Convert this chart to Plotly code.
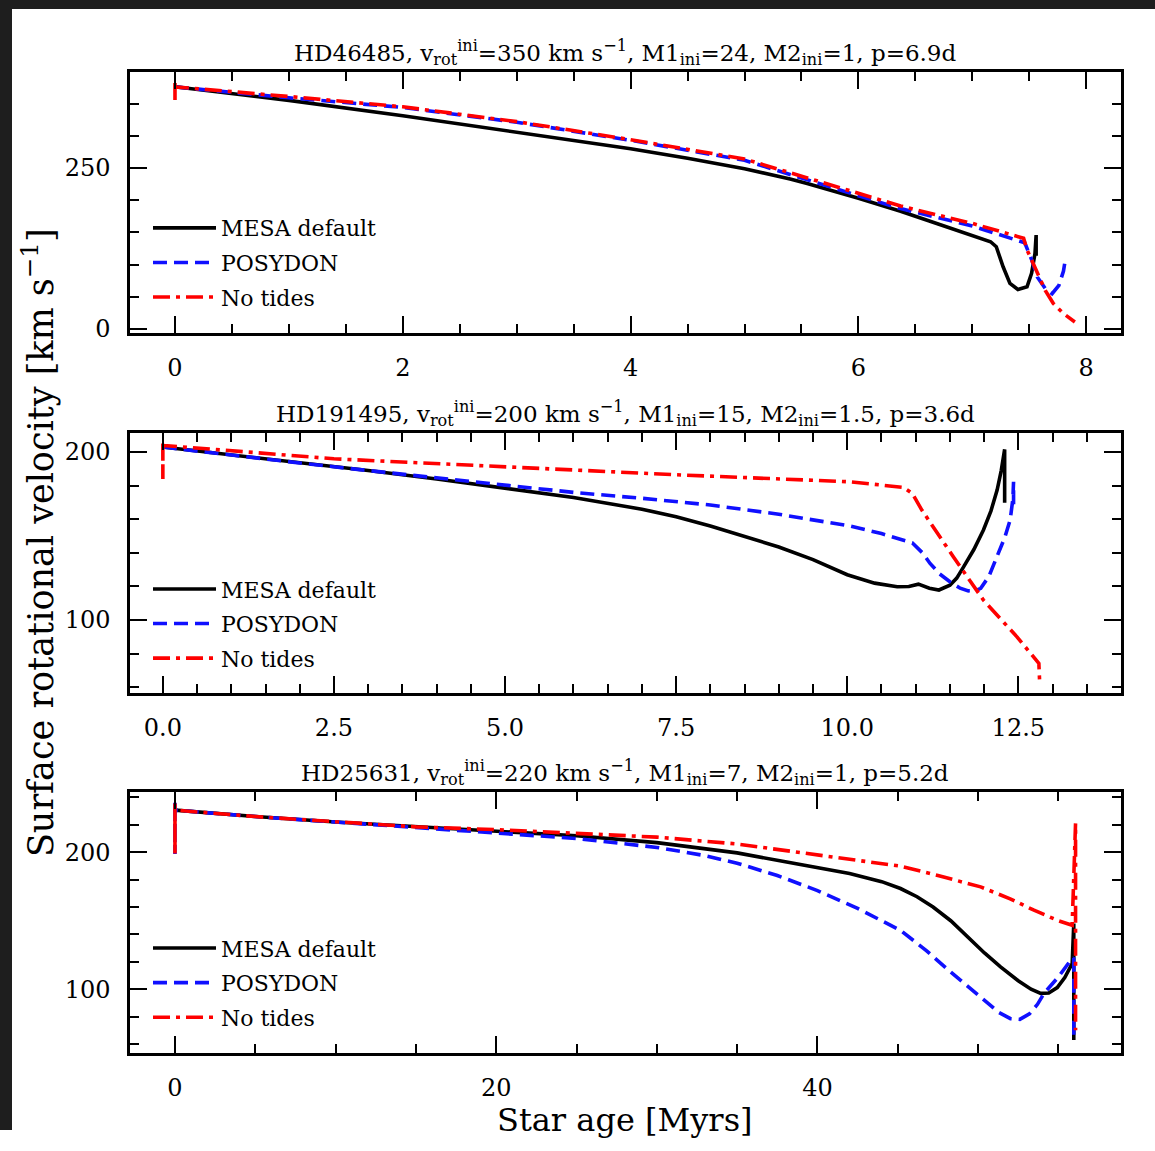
import plotly.graph_objects as go

# ---------------- data ----------------
# Panel 1: HD46485
p1_mesa_age = [0, 1, 2, 3, 4, 4.5, 5, 5.4, 5.55, 6, 6.37, 6.7, 7.0, 7.16, 7.21, 7.27, 7.33, 7.40, 7.48, 7.52, 7.55, 7.56, 7.56]
p1_mesa_v = [376, 355, 331, 306, 280, 265, 249, 233, 226, 203, 183, 163, 145, 135.6, 127.8, 96.7, 71, 61.6, 65.7, 86.5, 117.5, 146, 114]
p1_pos_age = [0, 1, 2, 3, 4, 5, 6, 6.37, 7.0, 7.46, 7.52, 7.57, 7.64, 7.70, 7.76, 7.80, 7.82]
p1_pos_v = [376, 359, 344, 321, 293, 262, 207, 187, 160, 134, 108, 81, 63, 55, 68, 90, 112]
p1_not_age = [0, 0, 0, 1, 2, 3, 4, 5, 6, 6.37, 7.0, 7.45, 7.48, 7.57, 7.64, 7.71, 7.80, 7.90]
p1_not_v = [382, 351, 376, 361, 345, 322, 294, 264, 210, 191, 164, 141, 123, 86, 60, 40, 24, 11]

# Panel 2: HD191495
p2_mesa_age = [0, 1, 2, 3, 4, 5, 6, 7, 7.5, 8, 8.5, 9, 9.5, 10, 10.4, 10.73, 10.9, 11.04, 11.2, 11.34, 11.5, 11.6, 11.7, 11.85, 11.99, 12.1, 12.19, 12.25, 12.30, 12.30]
p2_mesa_v = [203, 198.5, 194, 189, 184, 178.5, 173, 166, 161.5, 156, 150, 143.5, 136, 127, 122, 119.8, 120, 121.4, 119, 117.9, 120.8, 125, 131.7, 142, 153.6, 165, 177.4, 189, 201.6, 169.8]
p2_pos_age = [0, 1, 2, 3, 4, 5, 6, 7, 8, 9, 10.04, 10.5, 10.95, 11.1, 11.21, 11.35, 11.5, 11.65, 11.77, 11.87, 11.95, 12.07, 12.19, 12.3, 12.38, 12.42, 12.43, 12.43]
p2_pos_v = [203, 198, 193.5, 189, 184.5, 180, 176, 172.5, 168.5, 163, 156, 151.5, 146, 140, 133.7, 127.5, 122.8, 119, 117.4, 117.5, 118.9, 126, 137.7, 149, 159.5, 172, 182.3, 165]
p2_not_age = [0, 0, 0, 2.5, 5, 7.5, 10.04, 10.82, 10.95, 11.09, 11.55, 11.99, 12.48, 12.80, 12.81]
p2_not_v = [205, 184, 204, 196, 191, 186.5, 182.3, 179, 175.4, 165.5, 137.7, 111.9, 90, 74.2, 64.3]

# Panel 3: HD25631
p3_mesa_age = [0, 5, 10, 15, 20, 25, 30, 35, 38, 40, 42, 44, 45.17, 46.2, 47.2, 48.3, 49.33, 50.4, 51.4, 52.5, 53.3, 53.9, 54.4, 54.93, 55.4, 55.86, 55.96, 55.96]
p3_mesa_v = [230.7, 226, 222, 218.5, 215.5, 212, 207, 199.5, 193, 189, 184.5, 178.5, 173.5, 167.5, 160, 150, 138.2, 126.5, 116.3, 106.2, 100, 97, 97.3, 101.2, 108.5, 118.8, 148, 63]
p3_pos_age = [0, 0, 0, 5, 10, 15, 20, 25, 30, 33, 35, 37.5, 40, 42.5, 45.17, 46.8, 48.29, 49.5, 50.5, 51.3, 52.02, 52.6, 53.2, 53.7, 54.1, 55, 55.76, 55.96, 55.96]
p3_pos_v = [236, 198.6, 230.7, 226, 222, 218.5, 214.5, 210, 203.5, 197.5, 192, 183, 172, 159, 143, 128, 112.6, 101, 91, 83, 78.5, 78, 82, 89, 96.9, 109, 121, 123, 63]
p3_not_age = [0, 0, 0, 5, 10, 15, 20, 25, 30, 35, 40, 42.5, 45.17, 47.5, 50.16, 52, 53.48, 55, 55.86, 56.07, 56.07]
p3_not_v = [235.5, 199, 230.7, 226, 222, 218.5, 216.5, 214, 211, 206, 198, 194, 189.8, 183, 174.7, 166, 157.7, 150, 146.7, 221, 70]

titles = [
    "HD46485, v<sub>rot</sub><sup>ini</sup>=350 km s<sup>−1</sup>, M1<sub>ini</sub>=24, M2<sub>ini</sub>=1, p=6.9d",
    "HD191495, v<sub>rot</sub><sup>ini</sup>=200 km s<sup>−1</sup>, M1<sub>ini</sub>=15, M2<sub>ini</sub>=1.5, p=3.6d",
    "HD25631, v<sub>rot</sub><sup>ini</sup>=220 km s<sup>−1</sup>, M1<sub>ini</sub>=7, M2<sub>ini</sub>=1, p=5.2d",
]
series_names = ["MESA default", "POSYDON", "No tides"]

# ---------------- figure ----------------
W, H = 1155, 1140
KY = 0.991   # observed vertical render factor
FONT = "DejaVu Serif"

def px_x(p):
    return p / W

def px_y(p):
    return 1 - (p / KY) / H

styles = [
    dict(color="black", width=3.6, dash="solid"),
    dict(color="#1010ff", width=3.6, dash="14px,7px"),
    dict(color="#ff0000", width=3.6, dash="17px,6px,4px,6px"),
]

panels = [
    ([p1_mesa_age, p1_pos_age, p1_not_age], [p1_mesa_v, p1_pos_v, p1_not_v]),
    ([p2_mesa_age, p2_pos_age, p2_not_age], [p2_mesa_v, p2_pos_v, p2_not_v]),
    ([p3_mesa_age, p3_pos_age, p3_not_age], [p3_mesa_v, p3_pos_v, p3_not_v]),
]

fig = go.Figure()
for i, (xs, ys) in enumerate(panels):
    sfx = "" if i == 0 else str(i + 1)
    for j in range(3):
        fig.add_trace(go.Scatter(
            x=xs[j], y=ys[j], mode="lines", name=series_names[j],
            line=styles[j], xaxis="x" + sfx, yaxis="y" + sfx,
            legend="legend" + sfx, legendgroup=f"g{i}{j}",
        ))

rows = [(72, 333), (433, 693), (792, 1053)]
xr = [[-0.395, 8.305], [-0.48, 14.0], [-2.8, 58.9]]
yr = [[-6.2, 399], [56.5, 211.3], [53.3, 243.8]]
xd = [(2, 0.5, None), (2.5, 0.5, ".1f"), (20, 5, None)]
yd = [(250, 50), (100, 20), (100, 20)]

tickfont = dict(family=FONT, size=24, color="black")
layout = dict(
    width=W, height=H, autosize=False,
    margin=dict(l=0, r=0, t=0, b=0),
    paper_bgcolor="white", plot_bgcolor="white",
    font=dict(family=FONT, color="black"),
)
annotations = []
for i in range(3):
    sfx = "" if i == 0 else str(i + 1)
    top, bot = rows[i]
    common = dict(showline=True, linecolor="black", linewidth=2.5, mirror="allticks",
                  ticks="inside", ticklen=17, tickwidth=2.2, tickcolor="black",
                  showgrid=False, zeroline=False, tickfont=tickfont)
    xa = dict(common, domain=[px_x(130), px_x(1121)], range=xr[i], anchor="y" + sfx,
              dtick=xd[i][0], tick0=0, ticklabelstandoff=11,
              minor=dict(ticks="inside", ticklen=9, tickwidth=2, tickcolor="black", dtick=xd[i][1], showgrid=False))
    if xd[i][2]:
        xa["tickformat"] = xd[i][2]
    ya = dict(common, domain=[px_y(bot), px_y(top)], range=yr[i], anchor="x" + sfx,
              dtick=yd[i][0], tick0=0, ticklabelstandoff=12,
              minor=dict(ticks="inside", ticklen=9, tickwidth=2, tickcolor="black", dtick=yd[i][1], showgrid=False))
    layout["xaxis" + sfx] = xa
    layout["yaxis" + sfx] = ya
    layout["legend" + sfx] = dict(
        x=px_x(148), y=px_y(top + (207 - 72)), xanchor="left", yanchor="top",
        bgcolor="rgba(0,0,0,0)", font=dict(family=FONT, size=22, color="black"),
        tracegroupgap=3, itemwidth=63,
    )
    annotations.append(dict(
        text=titles[i], x=px_x(625), y=px_y(top - 1), xref="paper", yref="paper",
        xanchor="center", yanchor="bottom", showarrow=False,
        font=dict(family=FONT, size=23, color="black"),
    ))

annotations.append(dict(
    text="Star age [Myrs]", x=px_x(625), y=px_y(1120), xref="paper", yref="paper",
    xanchor="center", yanchor="middle", showarrow=False,
    font=dict(family=FONT, size=32, color="black"),
))
annotations.append(dict(
    text="Surface rotational velocity [km s<sup>−1</sup>]", x=px_x(38), y=px_y(543),
    xref="paper", yref="paper", xanchor="center", yanchor="middle", textangle=-90,
    showarrow=False, font=dict(family=FONT, size=35, color="black"),
))
layout["annotations"] = annotations
layout["shapes"] = [
    dict(type="rect", xref="paper", yref="paper", x0=0, x1=1, y0=px_y(9), y1=1,
         fillcolor="#1e1e1e", line=dict(width=0), layer="below"),
    dict(type="rect", xref="paper", yref="paper", x0=0, x1=px_x(12), y0=0, y1=1,
         fillcolor="#1e1e1e", line=dict(width=0), layer="below"),
]
fig.update_layout(**layout)
fig.write_html("out.html", config={"responsive": False})
